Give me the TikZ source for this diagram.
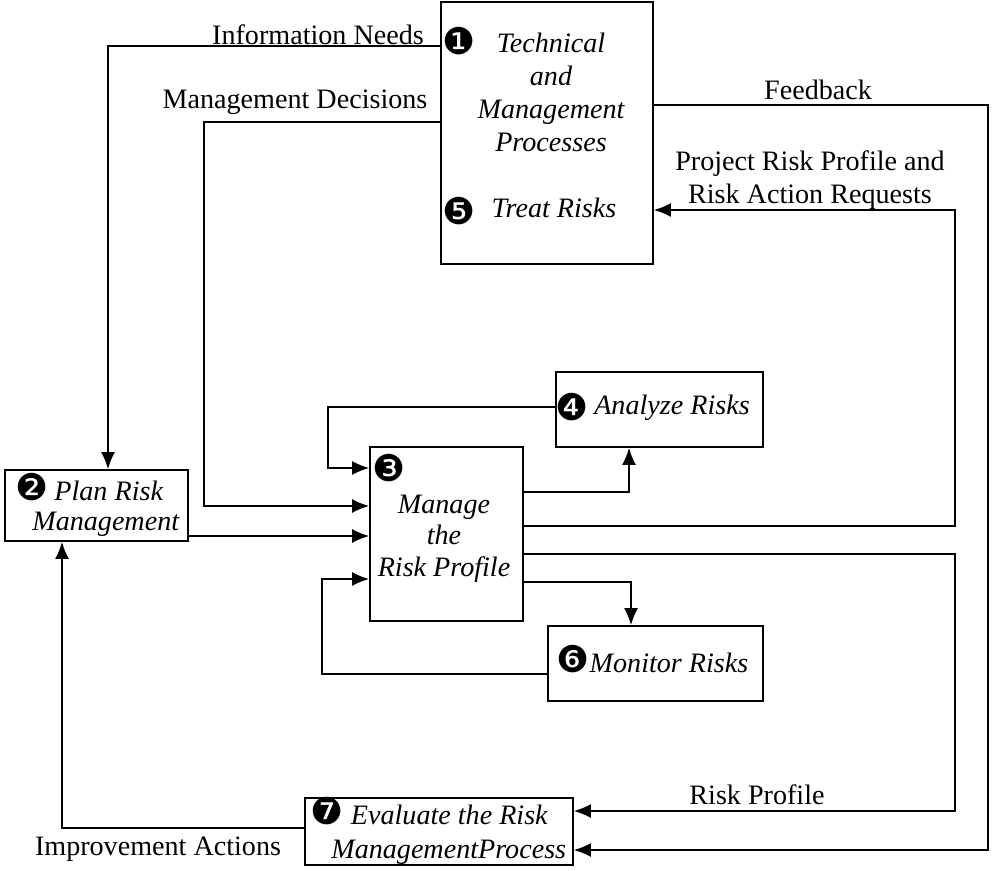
\documentclass[tikz,border=0pt]{standalone}
\usepackage{fontspec}
\setmainfont{Liberation Serif}
\newfontfamily\numfont{DejaVu Sans}
\usetikzlibrary{arrows.meta}
\newcommand{\nb}[1]{{\upshape\fontsize{21}{21}\numfont #1}}

\begin{document}
\begin{tikzpicture}[
    font=\fontsize{16}{19}\selectfont,
    box/.style={draw, line width=1.1pt, inner sep=0pt},
    txt/.style={font=\fontsize{16}{18.8}\selectfont\itshape, align=center, inner sep=0pt},
    num/.style={font=\fontsize{21}{21}\numfont, inner sep=0pt},
    lbl/.style={inner sep=0pt, align=center},
    fl/.style={-{Latex[length=3.4mm, width=2.8mm]}, line width=0.8pt},
    ln/.style={line width=0.8pt}
]
  \useasboundingbox (0,0) rectangle (19.84,-17.42);

  % ================= boxes =================
  \node[box, minimum width=4.24cm, minimum height=5.24cm] (tmp)  at (10.94,-2.66)  {};
  \node[box, minimum width=3.66cm, minimum height=1.42cm] (plan) at (1.93,-10.11)  {};
  \node[box, minimum width=3.06cm, minimum height=3.48cm] (mgr)  at (8.93,-10.68)  {};
  \node[box, minimum width=4.14cm, minimum height=1.50cm] (ana)  at (13.19,-8.19)  {};
  \node[box, minimum width=4.30cm, minimum height=1.50cm] (mon)  at (13.11,-13.27) {};
  \node[box, minimum width=5.36cm, minimum height=1.34cm] (eva)  at (8.78,-16.63)  {};

  % ================= box texts =================
  \node[num] (n1) at (9.18,-0.82) {❶};
  \node[txt] (tmptxt) at (11.02,-1.85) {Technical\\and\\Management\\Processes};
  \node[num] (n5) at (9.18,-4.22) {❺};
  \node[txt] (treat) at (11.08,-4.16) {Treat Risks};

  \node[txt, align=left, anchor=west, font=\fontsize{16}{17}\selectfont\itshape]
      (plantxt) at (0.3,-10.1) {\nb{❷}\hspace{0.12cm}Plan Risk\\\hspace*{0.34cm}Management};

  \node[num] (n3) at (7.78,-9.36) {❸};
  \node[txt, font=\fontsize{16}{17.9}\selectfont\itshape] (mgrtxt) at (8.88,-10.77)
      {Manage\\the\\Risk Profile};

  \node[num] (n4) at (11.44,-8.14) {❹};
  \node[txt] (anatxt) at (13.44,-8.16) {Analyze Risks};

  \node[num] (n6) at (11.46,-13.18) {❻};
  \node[txt] (montxt) at (13.38,-13.26) {Monitor Risks};

  \node[txt, align=left, anchor=west, font=\fontsize{16}{19.3}\selectfont\itshape]
      (evatxt) at (6.2,-16.62) {\nb{❼}\hspace{0.15cm}Evaluate the Risk\\\hspace*{0.42cm}ManagementProcess};

  % ================= connectors =================
  % information needs
  \draw[fl] (tmp.west |- 0,-0.92) -- (2.16,-0.92) -- (plan.north -| 2.16,0);
  \node[lbl] (infolbl) at (6.36,-0.7) {Information Needs};

  % management decisions
  \draw[fl] (tmp.west |- 0,-2.44) -- (4.08,-2.44) -- (4.08,-10.12)
            -- (mgr.west |- 0,-10.12);
  \node[lbl] (declbl) at (5.9,-2.04) {Management Decisions};

  % plan -> manage
  \draw[fl] (plan.east |- 0,-10.72) -- (mgr.west |- 0,-10.72);

  % analyze -> manage
  \draw[fl] (ana.west |- 0,-8.14) -- (6.56,-8.14) -- (6.56,-9.36)
            -- (mgr.west |- 0,-9.36);

  % manage -> analyze
  \draw[fl] (mgr.east |- 0,-9.84) -- (12.58,-9.84) -- (ana.south -| 12.58,0);

  % manage -> treat risks
  \draw[fl] (mgr.east |- 0,-10.52) -- (19.1,-10.52) -- (19.1,-4.2)
            -- (tmp.east |- 0,-4.2);
  \node[lbl] (reqlbl) at (16.2,-3.6) {Project Risk Profile and\\Risk Action Requests};

  % manage -> evaluate
  \draw[fl] (mgr.east |- 0,-11.08) -- (19.1,-11.08) -- (19.1,-16.22)
            -- (eva.east |- 0,-16.22);
  \node[lbl] (proflbl) at (15.14,-15.9) {Risk Profile};

  % manage -> monitor
  \draw[fl] (mgr.east |- 0,-11.64) -- (12.62,-11.64) -- (mon.north -| 12.62,0);

  % monitor -> manage
  \draw[fl] (mon.west |- 0,-13.48) -- (6.44,-13.48) -- (6.44,-11.58)
            -- (mgr.west |- 0,-11.58);

  % feedback
  \draw[fl] (tmp.east |- 0,-2.1) -- (19.76,-2.1) -- (19.76,-17.0)
            -- (eva.east |- 0,-17.0);
  \node[lbl] (fblbl) at (16.36,-1.8) {Feedback};

  % improvement actions
  \draw[fl] (eva.west |- 0,-16.56) -- (1.24,-16.56) -- (plan.south -| 1.24,0);
  \node[lbl] (implbl) at (3.16,-16.98) {Improvement Actions};

\end{tikzpicture}
\end{document}
